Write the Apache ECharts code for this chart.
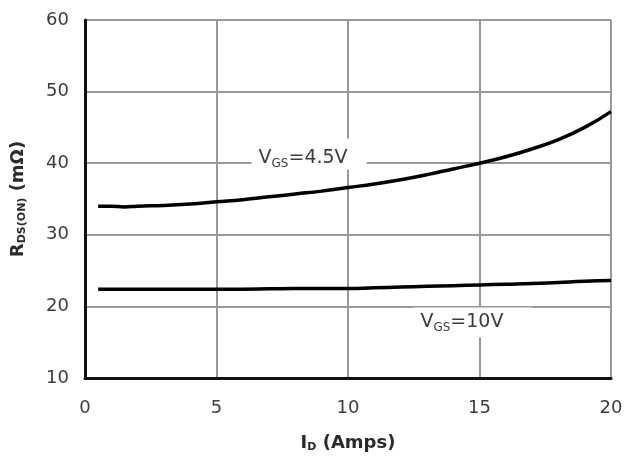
<!DOCTYPE html>
<html><head><meta charset="utf-8">
<script src="https://cdn.jsdelivr.net/npm/echarts@6/dist/echarts.min.js"></script>
<style>html,body{margin:0;padding:0;background:#fff}#c{width:627px;height:462px}</style>
</head><body><div id="c"></div>
<script>
const currentAmps = [0.5, 1, 1.5, 2, 3, 4, 5, 6, 7, 8, 9, 10, 11, 12, 13, 14, 15, 16, 17, 18, 19, 20];
const rdsVgs45 = [34.0, 34.0, 33.9, 34.0, 34.1, 34.3, 34.6, 34.9, 35.3, 35.7, 36.1, 36.6, 37.1, 37.7, 38.4, 39.2, 40.0, 40.9, 42.0, 43.3, 45.0, 47.2];
const rdsVgs10 = [22.4, 22.4, 22.4, 22.4, 22.4, 22.4, 22.4, 22.4, 22.45, 22.5, 22.5, 22.5, 22.6, 22.7, 22.8, 22.9, 23.0, 23.1, 23.2, 23.35, 23.5, 23.6];
const xTicks = [0, 5, 10, 15, 20];
const yTicks = [10, 20, 30, 40, 50, 60];
const curveLabels = [
  {name: 'VGS=4.5V', coord: [8.52, 41.3], text: ['V', 'GS', '=4.5V']},
  {name: 'VGS=10V', coord: [14.73, 17.75], text: ['V', 'GS', '=10V']}
];

const chart = echarts.init(document.getElementById('c'), null, {renderer: 'canvas'});
const font = 'DejaVu Sans, sans-serif';
const rich = {
  n: {fontSize: 19, color: '#3c3c3c', fontFamily: font},
  s: {fontSize: 12, color: '#3c3c3c', fontFamily: font, padding: [10, 0, 0, 0]}
};
const pads = [[9, 19, 0, 7], [4, 28, 4, 7]];
function mk(lbl, i) {
  return {
    coord: lbl.coord,
    symbolSize: 0,
    label: {
      show: true, position: 'inside',
      formatter: '{n|' + lbl.text[0] + '}{s|' + lbl.text[1] + '}{n|' + lbl.text[2] + '}',
      backgroundColor: '#fff', padding: pads[i], rich: rich
    }
  };
}
chart.setOption({
  animation: false,
  backgroundColor: '#fff',
  grid: {left: 85, right: 16, top: 20, bottom: 84},
  xAxis: {
    type: 'value', min: xTicks[0], max: xTicks[xTicks.length - 1], interval: 5,
    axisLine: {show: true, onZero: false, lineStyle: {color: '#111', width: 3}},
    axisTick: {show: false},
    axisLabel: {fontSize: 18, color: '#3c3c3c', fontFamily: font, margin: 21},
    splitLine: {show: true, lineStyle: {color: '#999', width: 2}},
    name: '{n|I}{s|D}{n| (Amps)}', nameLocation: 'middle', nameGap: 55,
    nameTextStyle: {rich: {
      n: {fontSize: 18, fontWeight: 'bold', color: '#2a2a2a', fontFamily: font},
      s: {fontSize: 11, fontWeight: 'bold', color: '#2a2a2a', fontFamily: font, padding: [9, 0, 0, 0]}
    }}
  },
  yAxis: {
    type: 'value', min: yTicks[0], max: yTicks[yTicks.length - 1], interval: 10,
    axisLine: {show: true, onZero: false, lineStyle: {color: '#111', width: 3}},
    axisTick: {show: false},
    axisLabel: {fontSize: 18, color: '#3c3c3c', fontFamily: font, margin: 16},
    splitLine: {show: true, lineStyle: {color: '#999', width: 2}},
    name: '{n|R}{s|DS(ON)}{n| (mΩ)}', nameLocation: 'middle', nameGap: 57,
    nameTextStyle: {rich: {
      n: {fontSize: 18, fontWeight: 'bold', color: '#2a2a2a', fontFamily: font},
      s: {fontSize: 11, fontWeight: 'bold', color: '#2a2a2a', fontFamily: font, padding: [9, 0, 0, 0]}
    }}
  },
  series: [
    {
      type: 'line', name: curveLabels[0].name, smooth: true, showSymbol: false,
      data: currentAmps.map((x, i) => [x, rdsVgs45[i]]),
      lineStyle: {color: '#000', width: 3.5},
      markPoint: {data: [mk(curveLabels[0], 0)]}, z: 3
    },
    {
      type: 'line', name: curveLabels[1].name, smooth: true, showSymbol: false,
      data: currentAmps.map((x, i) => [x, rdsVgs10[i]]),
      lineStyle: {color: '#000', width: 3.5},
      markPoint: {data: [mk(curveLabels[1], 1)]}, z: 3
    }
  ]
});
</script></body></html>
